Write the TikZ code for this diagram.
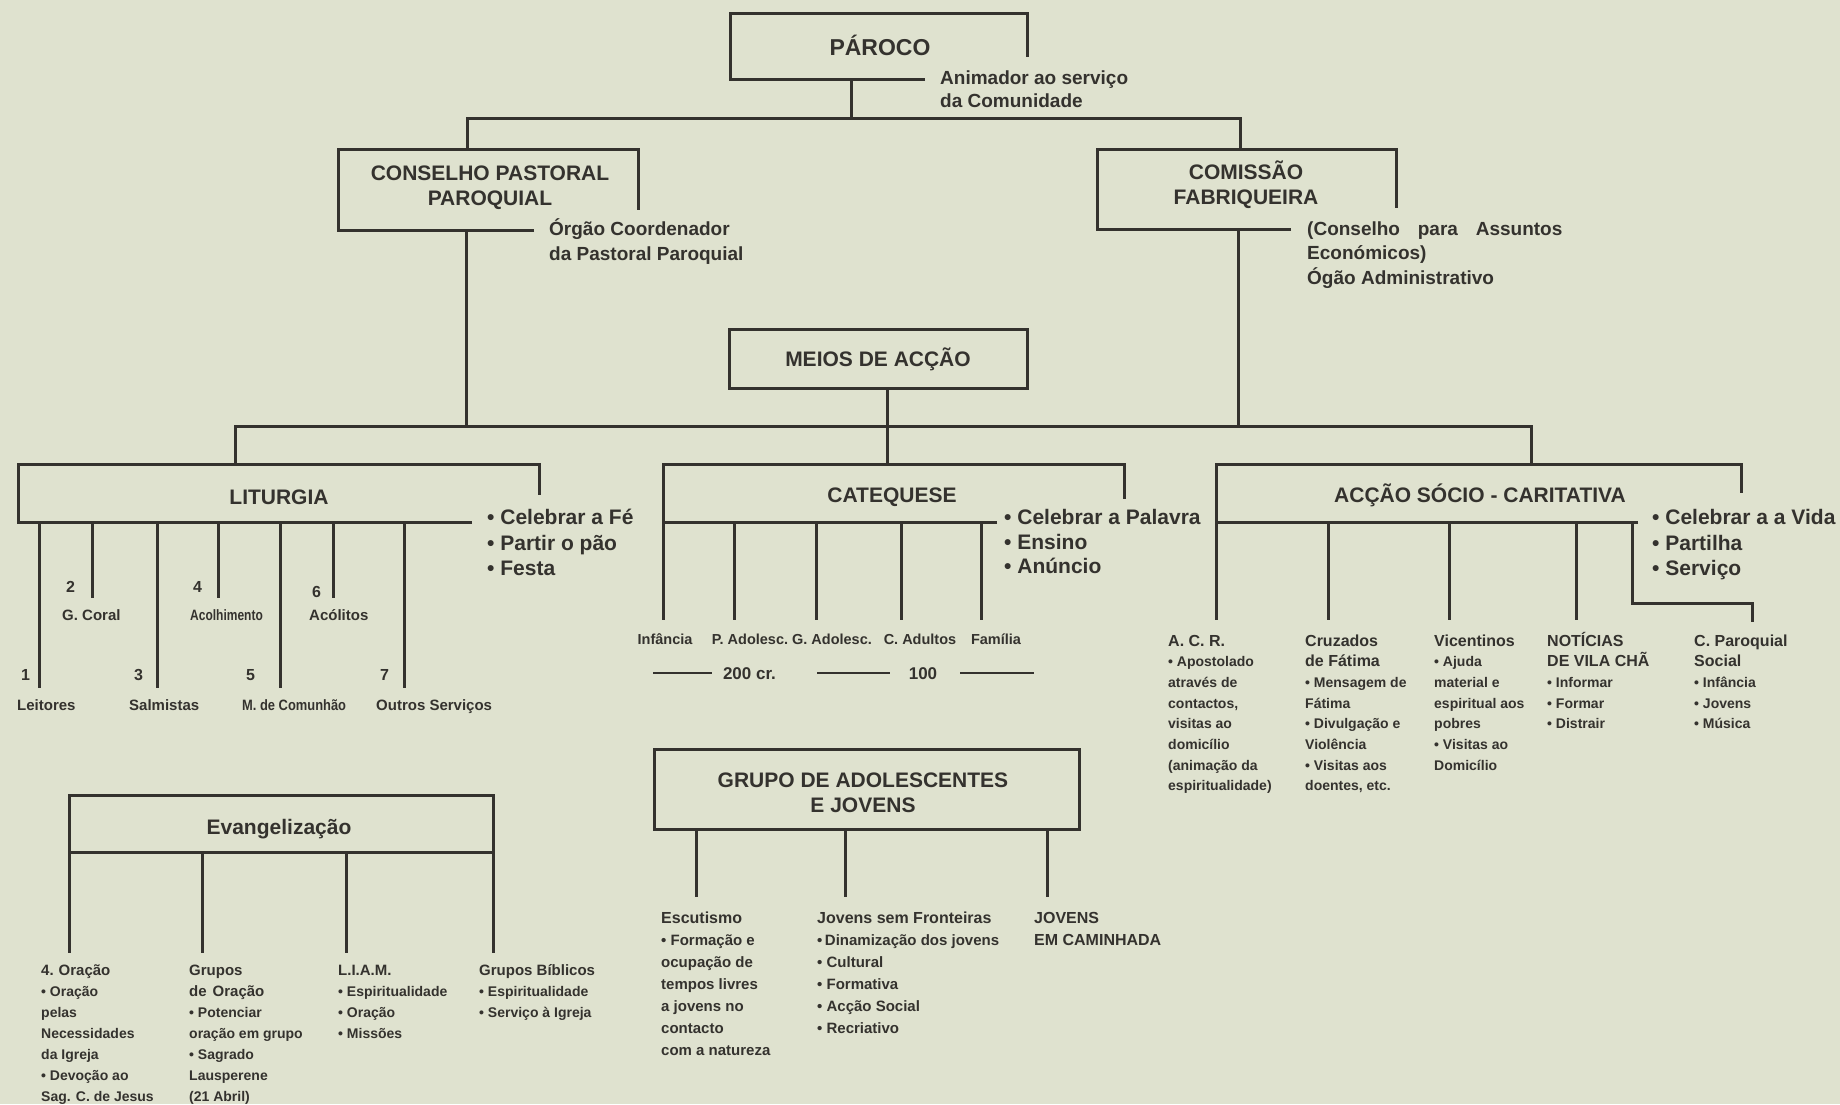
\documentclass[tikz,border=0pt]{standalone}
\usepackage{graphicx}
\usepackage{fontspec}
\setmainfont{Liberation Sans}
\definecolor{bg}{HTML}{DFE2CF}
\definecolor{ink}{HTML}{34322E}
\newcommand{\mystrut}{\rule{0pt}{1em}}
\newcommand{\hdA}{\fontsize{16}{20.7}\selectfont}
\newcommand{\hdB}{\fontsize{15}{21}\selectfont}
\begin{document}
\begin{tikzpicture}[x=1pt,y=-1pt,
  ln/.style={draw=ink,line width=3pt},
  thin/.style={draw=ink,line width=2.2pt},
  ttl/.style={text=ink,inner sep=0pt,font=\fontsize{21}{25}\selectfont\bfseries,align=center},
  ann/.style={text=ink,inner sep=0pt,anchor=north west,align=left,font=\fontsize{19}{24.5}\selectfont\bfseries},
  bul/.style={text=ink,inner sep=0pt,anchor=north west,align=left,font=\fontsize{21}{25.5}\selectfont\bfseries},
  num/.style={text=ink,inner sep=0pt,anchor=base west,font=\fontsize{16}{18}\selectfont\bfseries},
  lab/.style={text=ink,inner sep=0pt,anchor=base west,font=\fontsize{15}{18}\selectfont\bfseries},
  clab/.style={text=ink,inner sep=0pt,anchor=base,font=\fontsize{14.5}{18}\selectfont\bfseries},
  crl/.style={text=ink,inner sep=0pt,anchor=base,font=\fontsize{17}{20}\selectfont\bfseries},
  blkA/.style={text=ink,inner sep=0pt,anchor=north west,align=left,font=\fontsize{14}{20.7}\selectfont\bfseries},
  blkB/.style={text=ink,inner sep=0pt,anchor=north west,align=left,font=\fontsize{14}{21}\selectfont\bfseries},
  blkC/.style={text=ink,inner sep=0pt,anchor=north west,align=left,font=\fontsize{15}{22}\selectfont\bfseries}
]
\useasboundingbox (0,0) rectangle (1840,1104);
\fill[bg] (0,0) rectangle (1840,1104);

% ---------- PAROCO ----------
\draw[ln] (925,79) -- (730,79) -- (730,13) -- (1027,13) -- (1027,57);
\node[ttl,anchor=base] (paroco) at (880,55.3) {\fontsize{23}{27}\selectfont PÁROCO};
\node[ann,font=\fontsize{19}{23}\selectfont\bfseries] (parocoN) at (940,64.8) {\mystrut Animador ao serviço\\da Comunidade};
\draw[ln] (851,79) -- (851,118);
\draw[ln] (467,149) -- (467,118) -- (1240,118) -- (1240,149);

% ---------- CONSELHO ----------
\draw[ln] (534,230) -- (338,230) -- (338,149) -- (638,149) -- (638,210);
\node[ttl,anchor=north] (cpp) at (490,159.6) {\mystrut CONSELHO PASTORAL\\PAROQUIAL};
\node[ann,font=\fontsize{19}{25}\selectfont\bfseries] (cppN) at (549,215.8) {\mystrut Órgão Coordenador\\da Pastoral Paroquial};
\draw[ln] (466,230) -- (466,426);

% ---------- COMISSAO ----------
\draw[ln] (1291,229) -- (1097,229) -- (1097,149) -- (1396,149) -- (1396,208);
\node[ttl,anchor=north] (cf) at (1246,158.6) {\mystrut COMISSÃO\\FABRIQUEIRA};
\node[ann] (cfN) at (1307,215.8) {\mystrut (Conselho\hspace{17.8pt}para\hspace{17.8pt}Assuntos\\Económicos)\\Ógão Administrativo};
\draw[ln] (1238,229) -- (1238,426);

% ---------- MEIOS ----------
\draw[ln] (729,329) rectangle (1027,388);
\node[ttl,anchor=base] (meios) at (878,366.6) {MEIOS DE ACÇÃO};
\draw[ln] (887,388) -- (887,464);
\draw[ln] (235,464) -- (235,426) -- (1531,426) -- (1531,464);

% ---------- LITURGIA ----------
\draw[ln] (472,522) -- (18,522) -- (18,464) -- (539,464) -- (539,495);
\node[ttl,anchor=base] (lit) at (279,504.6) {LITURGIA};
\node[bul] (litB) at (487,503.6) {\mystrut • Celebrar a Fé\\• Partir o pão\\• Festa};
\foreach \x/\y in {39/688,92/598,157/688,218/598,280/688,333/598,404/688}
  \draw[ln] (\x,522) -- (\x,\y);
\node[num] (n1) at (21,680.8) {1};
\node[num] (n2) at (66,592.8) {2};
\node[num] (n3) at (134,680.8) {3};
\node[num] (n4) at (193,592.8) {4};
\node[num] (n5) at (246,680.8) {5};
\node[num] (n6) at (312,597.8) {6};
\node[num] (n7) at (380,680.8) {7};
\node[lab] (l1) at (17,710.4) {Leitores};
\node[lab] (l2) at (62,620.4) {G. Coral};
\node[lab] (l3) at (129,710.4) {Salmistas};
\node[lab] (l4) at (190,620.4) {\scalebox{0.8}[1]{Acolhimento}};
\node[lab] (l5) at (242,710.4) {\scalebox{0.86}[1]{M. de Comunhão}};
\node[lab] (l6) at (309,620.4) {Acólitos};
\node[lab] (l7) at (376,710.4) {Outros Serviços};

% ---------- CATEQUESE ----------
\draw[ln] (997,522) -- (663,522) -- (663,464) -- (1124,464) -- (1124,499);
\node[ttl,anchor=base] (cat) at (892,502.6) {CATEQUESE};
\node[bul,font=\fontsize{21}{24.5}\selectfont\bfseries] (catB) at (1004,503.6) {\mystrut • Celebrar a Palavra\\• Ensino\\• Anúncio};
\foreach \x in {663,734,816,901,981}
  \draw[ln] (\x,522) -- (\x,620);
\node[clab] (c1) at (665,644.2) {Infância};
\node[clab] (c2) at (750,644.2) {P. Adolesc.};
\node[clab] (c3) at (832,644.2) {G. Adolesc.};
\node[clab] (c4) at (920,644.2) {C. Adultos};
\node[clab] (c5) at (996,644.2) {Família};
\draw[thin] (653,673) -- (712,673);
\draw[thin] (817,673) -- (890,673);
\draw[thin] (960,673) -- (1034,673);
\node[crl] (cr200) at (749.5,679.1) {200 cr.};
\node[crl] (cr100) at (923,679.1) {100};

% ---------- ACCAO ----------
\draw[ln] (1638,522) -- (1216,522) -- (1216,464) -- (1741,464) -- (1741,493);
\node[ttl,anchor=base] (acc) at (1480,502.6) {ACÇÃO SÓCIO - CARITATIVA};
\node[bul] (accB) at (1652,503.6) {\mystrut • Celebrar a a Vida\\• Partilha\\• Serviço};
\foreach \x in {1216,1328,1449,1576}
  \draw[ln] (\x,522) -- (\x,620);
\draw[ln] (1632,522) -- (1632,603) -- (1752,603) -- (1752,622);
\node[blkA] (acr) at (1168,629.8) {\hdA\mystrut A. C. R.\\• Apostolado\\através de\\contactos,\\visitas ao\\domicílio\\(animação da\\espiritualidade)};
\node[blkA] (cruz) at (1305,629.8) {\hdA\mystrut Cruzados\\\hdA de Fátima\\• Mensagem de\\Fátima\\• Divulgação e\\Violência\\• Visitas aos\\doentes, etc.};
\node[blkA] (vic) at (1434,629.8) {\hdA\mystrut Vicentinos\\• Ajuda\\material e\\espiritual aos\\pobres\\• Visitas ao\\Domicílio};
\node[blkA] (not) at (1547,629.8) {\hdA\mystrut NOTÍCIAS\\\hdA DE VILA CHÃ\\• Informar\\• Formar\\• Distrair};
\node[blkA] (cps) at (1694,629.8) {\hdA\mystrut C. Paroquial\\\hdA Social\\• Infância\\• Jovens\\• Música};

% ---------- EVANGELIZACAO ----------
\draw[ln] (69,795) rectangle (493,852);
\node[ttl,anchor=base] (evg) at (279,834.6) {Evangelização};
\foreach \x in {69,202,346,493}
  \draw[ln] (\x,852) -- (\x,953);
\node[blkB] (e1) at (41,960.4) {\hdB\mystrut 4.\hspace{5pt}Oração\\• Oração\\pelas\\Necessidades\\da Igreja\\• Devoção ao\\Sag. C. de Jesus};
\node[blkB] (e2) at (189,960.4) {\hdB\mystrut Grupos\\\hdB de\hspace{6pt}Oração\\• Potenciar\\oração em grupo\\• Sagrado\\Lausperene\\(21 Abril)};
\node[blkB] (e3) at (338,960.4) {\hdB\mystrut L.I.A.M.\\• Espiritualidade\\• Oração\\• Missões};
\node[blkB] (e4) at (479,960.4) {\hdB\mystrut Grupos Bíblicos\\• Espiritualidade\\• Serviço à Igreja};

% ---------- GRUPO DE ADOLESCENTES ----------
\draw[ln] (654,749) rectangle (1079,829);
\node[ttl,anchor=north] (gaj) at (863,766.6) {\mystrut GRUPO DE ADOLESCENTES\\E JOVENS};
\foreach \x in {696,845,1047}
  \draw[ln] (\x,829) -- (\x,897);
\node[blkC] (g1) at (661,906.8) {\hdA\mystrut Escutismo\\• Formação e\\ocupação de\\tempos livres\\a jovens no\\contacto\\com a natureza};
\node[blkC] (g2) at (817,906.8) {\hdA\mystrut Jovens sem Fronteiras\\•\,Dinamização dos jovens\\• Cultural\\• Formativa\\• Acção Social\\• Recriativo};
\node[blkC] (g3) at (1034,906.8) {\hdA\mystrut JOVENS\\\hdA EM CAMINHADA};
\end{tikzpicture}
\end{document}
